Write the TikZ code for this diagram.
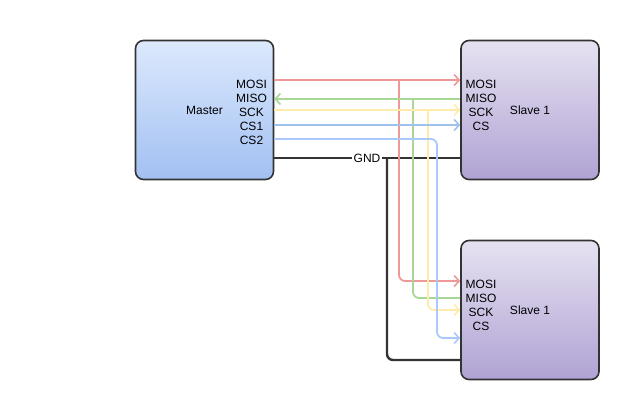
\documentclass[tikz,border=0pt]{standalone}
\usepackage{fontspec}
\setmainfont{Liberation Sans}
\usetikzlibrary{arrows.meta}
\definecolor{cred}{RGB}{238,152,152}
\definecolor{cgreen}{RGB}{168,214,148}
\definecolor{cyellow}{RGB}{255,236,168}
\definecolor{cblueA}{RGB}{158,194,236}
\definecolor{cblueB}{RGB}{170,200,250}
\definecolor{cgnd}{RGB}{51,51,51}
\definecolor{mtop}{RGB}{220,233,252}
\definecolor{mbot}{RGB}{162,192,243}
\definecolor{stop}{RGB}{230,226,241}
\definecolor{sbot}{RGB}{176,162,212}
\tikzset{
  box/.style={draw=cgnd, line width=1.6pt, rounded corners=8pt, minimum width=138pt, minimum height=139pt, inner sep=0pt},
  masterbox/.style={box, top color=mtop, bottom color=mbot},
  slavebox/.style={box, top color=stop, bottom color=sbot},
  pins/.style={align=center, inner sep=0pt},
  arr/.style={-{Straight Barb[length=5pt,width=11pt,line width=1.6pt]}},
  sig/.style={line width=1.8pt, rounded corners=6pt},
  gnd/.style={draw=cgnd, line width=2.4pt, rounded corners=6pt},
}
\begin{document}
\begin{tikzpicture}[x=1pt,y=-1pt,font=\fontsize{12}{14}\selectfont]
\useasboundingbox (0,0) rectangle (620,400);
\node[masterbox] (master) at (204.5,110) {Master};
\node[slavebox] (slave1) at (530,110) {Slave 1};
\node[slavebox] (slave2) at (530,310) {Slave 1};
\node[pins] (mpins) at (251.5,112) {MOSI\\MISO\\SCK\\CS1\\CS2};
\node[pins] (s1pins) at (481,105) {MOSI\\MISO\\SCK\\CS};
\node[pins] (s2pins) at (481,305) {MOSI\\MISO\\SCK\\CS};
% junction points
\coordinate (jmosi) at (399,80);
\coordinate (jmiso) at (413,99);
\coordinate (jsck) at (428,110);
\coordinate (jgnd) at (387,158);
% GND
\draw[gnd] (master.east |- 0,158) -- (slave1.west |- 0,158);
\node[fill=white, inner sep=1.5pt] (gndlabel) at (367,158) {GND};
\draw[gnd] (jgnd) -- (387,360) -- (slave2.west |- 0,360);
% MOSI
\draw[sig, draw=cred, arr] (master.east |- 0,80) -- (slave1.west |- 0,80);
\draw[sig, draw=cred, arr] (jmosi) -- (399,281) -- (slave2.west |- 0,281);
% MISO
\draw[sig, draw=cgreen, arr] (slave1.west |- 0,99) -- (master.east |- 0,99);
\draw[sig, draw=cgreen] (jmiso) -- (413,298) -- (slave2.west |- 0,298);
% SCK
\draw[sig, draw=cyellow, arr] (master.east |- 0,110) -- (slave1.west |- 0,110);
\draw[sig, draw=cyellow, arr] (jsck) -- (428,310) -- (slave2.west |- 0,310);
% CS1
\draw[sig, draw=cblueA, arr] (master.east |- 0,125) -- (slave1.west |- 0,125);
% CS2
\draw[sig, draw=cblueB, arr] (master.east |- 0,139) -- (437,139) -- (437,338) -- (slave2.west |- 0,338);
\end{tikzpicture}
\end{document}
